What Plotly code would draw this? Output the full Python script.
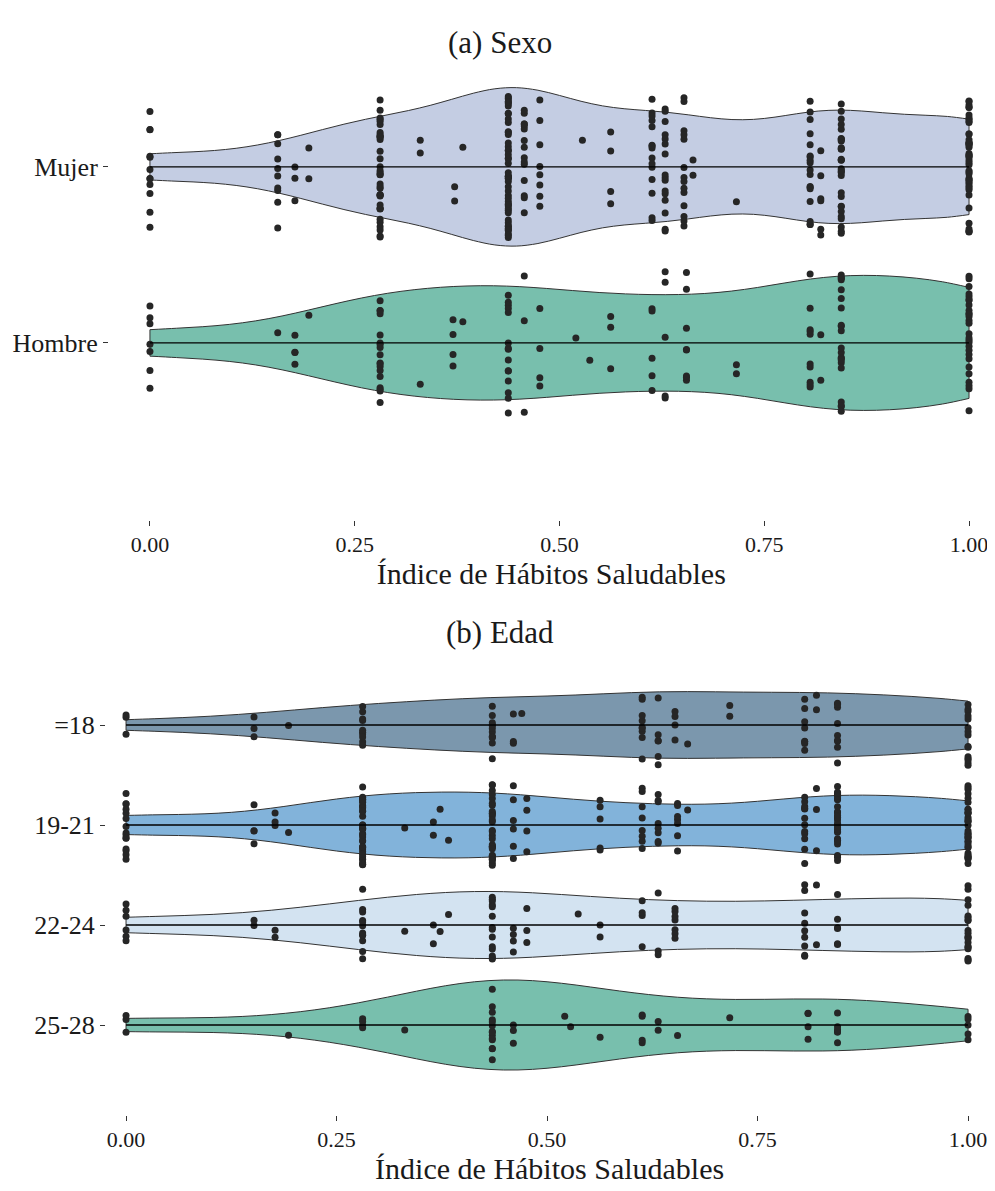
import numpy as np
import plotly.graph_objects as go

# ---------------- data ----------------
# Panel (a) Sexo : index values and number of respondents at each value
MUJER_VALUES = [0.0, 0.156, 0.177, 0.194, 0.281, 0.33, 0.372, 0.382, 0.4375, 0.457, 0.476,
                0.528, 0.5625, 0.613, 0.629, 0.652, 0.663, 0.716, 0.806, 0.819, 0.844, 1.0]
MUJER_COUNTS = [12, 10, 3, 2, 36, 2, 2, 1, 50, 15, 8,
                1, 4, 15, 16, 14, 2, 1, 18, 6, 30, 45]

HOMBRE_VALUES = [0.0, 0.156, 0.177, 0.194, 0.281, 0.33, 0.37, 0.382, 0.4375, 0.457, 0.476,
                 0.52, 0.537, 0.5625, 0.613, 0.629, 0.655, 0.716, 0.806, 0.819, 0.844, 1.0]
HOMBRE_COUNTS = [7, 1, 4, 1, 18, 1, 4, 1, 15, 3, 4,
                 1, 1, 3, 5, 5, 8, 2, 10, 2, 21, 28]

# Panel (b) Edad
A18_VALUES = [0.0, 0.152, 0.193, 0.281, 0.435, 0.46, 0.47, 0.613, 0.632, 0.652, 0.667,
              0.717, 0.806, 0.82, 0.845, 1.0]
A18_COUNTS = [3, 3, 1, 10, 12, 3, 1, 9, 6, 4, 1, 2, 8, 2, 9, 15]

A19_VALUES = [0.0, 0.152, 0.177, 0.193, 0.281, 0.331, 0.365, 0.373, 0.383, 0.435, 0.46,
              0.476, 0.563, 0.613, 0.632, 0.655, 0.667, 0.806, 0.82, 0.845, 1.0]
A19_COUNTS = [15, 4, 3, 1, 35, 1, 2, 1, 1, 30, 6, 4, 5, 8, 8, 7, 1, 12, 3, 28, 34]

A22_VALUES = [0.0, 0.152, 0.177, 0.281, 0.331, 0.365, 0.373, 0.383, 0.435, 0.46, 0.476,
              0.537, 0.563, 0.613, 0.632, 0.652, 0.806, 0.82, 0.845, 1.0]
A22_COUNTS = [6, 2, 2, 12, 1, 2, 1, 1, 14, 4, 3, 1, 2, 4, 3, 7, 9, 2, 6, 20]

A25_VALUES = [0.0, 0.193, 0.281, 0.331, 0.435, 0.46, 0.521, 0.528, 0.563, 0.613, 0.632,
              0.655, 0.717, 0.81, 0.845, 1.0]
A25_COUNTS = [3, 1, 4, 1, 14, 3, 1, 1, 1, 4, 2, 1, 1, 4, 6, 5]

SEXO_CATS = ["Mujer", "Hombre"]
EDAD_CATS = ["=18", "19-21", "22-24", "25-28"]
TICK_VALS = [0.0, 0.25, 0.5, 0.75, 1.0]
X_TITLE = "Índice de Hábitos Saludables"

# ---------------- helpers ----------------
def expand(values, counts):
    return np.repeat(np.asarray(values, dtype=float), counts)


def nrd0(x):
    x = np.asarray(x, dtype=float)
    sd = np.std(x, ddof=1)
    q75, q25 = np.percentile(x, [75, 25])
    lo = min(sd, (q75 - q25) / 1.34) if q75 > q25 else sd
    return 0.9 * lo * len(x) ** (-0.2)


FONT = "Liberation Serif"
TXT = "#1a1a1a"
EDGE = "#333333"
DOT = "#262626"

fig = go.Figure()


def add_group(name, vals, cnts, color, xa, ya, group):
    x = expand(vals, cnts)
    fig.add_trace(go.Violin(
        x=x, y=[name] * len(x), orientation="h", name=name,
        scalegroup=group, scalemode="width", spanmode="hard",
        bandwidth=nrd0(x), fillcolor=color, line=dict(color=EDGE, width=1),
        points="all", pointpos=0, jitter=0.9,
        marker=dict(color=DOT, size=7, line=dict(width=0)),
        xaxis=xa, yaxis=ya, showlegend=False, hoverinfo="skip",
    ))
    fig.add_trace(go.Scatter(
        x=[x.min(), x.max()], y=[name, name], mode="lines",
        line=dict(color="black", width=1.3),
        xaxis=xa, yaxis=ya, showlegend=False, hoverinfo="skip",
    ))


add_group("Mujer", MUJER_VALUES, MUJER_COUNTS, "#c4cde3", "x", "y", "a")
add_group("Hombre", HOMBRE_VALUES, HOMBRE_COUNTS, "#78bfad", "x", "y", "a")

add_group("=18", A18_VALUES, A18_COUNTS, "#7b97ad", "x2", "y2", "b")
add_group("19-21", A19_VALUES, A19_COUNTS, "#82b3da", "x2", "y2", "b")
add_group("22-24", A22_VALUES, A22_COUNTS, "#d3e3f1", "x2", "y2", "b")
add_group("25-28", A25_VALUES, A25_COUNTS, "#78bfad", "x2", "y2", "b")

W, H = 995, 1191

xcommon = dict(
    tickvals=TICK_VALS, tickformat=".2f",
    ticks="outside", ticklen=5, tickwidth=1, tickcolor=EDGE,
    showgrid=False, zeroline=False, showline=False, automargin=False,
    tickfont=dict(family=FONT, size=22, color=TXT),
)
ycommon = dict(
    type="category", ticks="outside", ticklen=5, tickwidth=1, tickcolor=EDGE,
    showgrid=False, zeroline=False, showline=False, automargin=False,
    tickfont=dict(family=FONT, size=26, color=TXT),
)

fig.update_layout(
    width=W, height=H,
    margin=dict(l=0, r=0, t=0, b=0),
    paper_bgcolor="white", plot_bgcolor="white",
    violinmode="overlay", violingap=0.1, violingroupgap=0,
    font=dict(family=FONT),
    xaxis=dict(domain=[101.0 / W, 985.6 / W], anchor="y", range=[-0.05, 1.03],
               title=dict(text=X_TITLE, font=dict(family=FONT, size=30, color=TXT), standoff=4),
               **xcommon),
    yaxis=dict(domain=[1 - 512.0 / H, 1 - 55.0 / H], anchor="x",
               categoryorder="array", categoryarray=SEXO_CATS[::-1],
               range=[-1.006, 1.59], **ycommon),
    xaxis2=dict(domain=[98.0 / W, 985.3 / W], anchor="y2", range=[-0.0238, 1.03],
                title=dict(text=X_TITLE, font=dict(family=FONT, size=30, color=TXT), standoff=4),
                **xcommon),
    yaxis2=dict(domain=[1 - 1107.0 / H, 1 - 657.0 / H], anchor="x2",
                categoryorder="array", categoryarray=EDAD_CATS[::-1],
                range=[-0.9, 3.6], **ycommon),
    annotations=[
        dict(text="(a) Sexo", x=0.494, y=1 - 34.0 / H, xref="paper", yref="paper",
             xanchor="center", yanchor="middle", showarrow=False,
             font=dict(family=FONT, size=31, color=TXT)),
        dict(text="(b) Edad", x=0.494, y=1 - 624.0 / H, xref="paper", yref="paper",
             xanchor="center", yanchor="middle", showarrow=False,
             font=dict(family=FONT, size=31, color=TXT)),
    ],
)

fig.write_html("out.html")
